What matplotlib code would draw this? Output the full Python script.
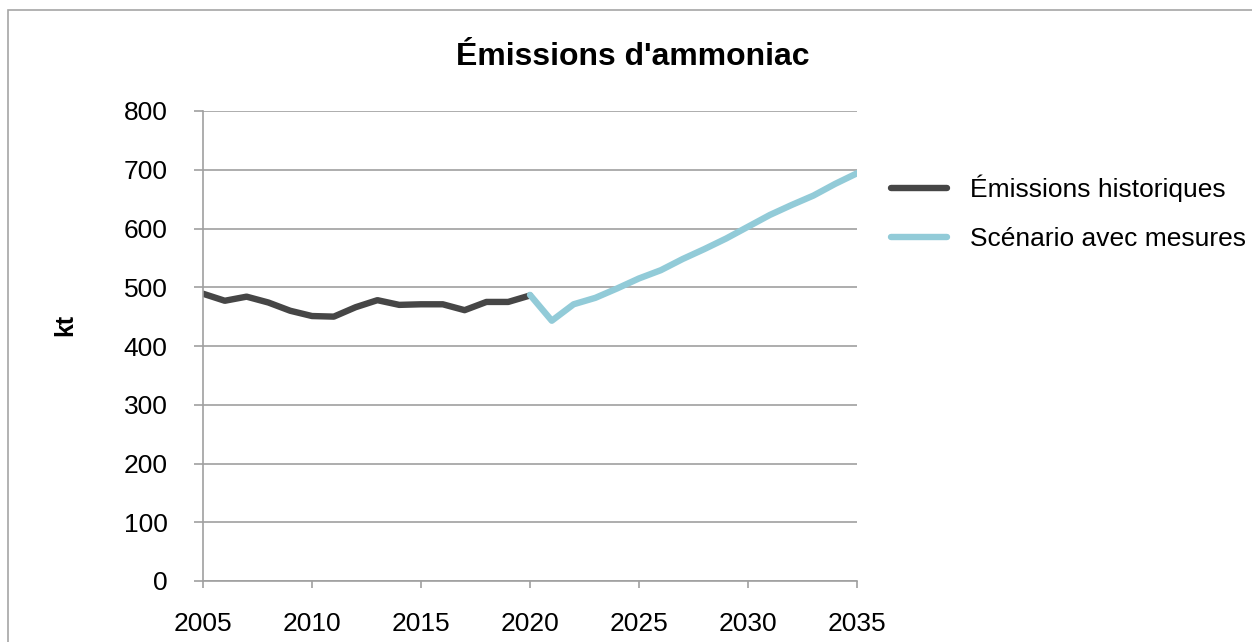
import matplotlib.pyplot as plt
from matplotlib.patches import Rectangle

plt.rcParams['font.family'] = ['Liberation Sans', 'DejaVu Sans']

# historical emissions
years_hist = list(range(2005, 2021))
hist = [489, 477, 484, 474, 460, 451, 450, 466, 478, 470, 471, 471, 461, 475, 475, 486]

# projection with measures
years_scen = list(range(2020, 2036))
scen = [487, 443, 471, 482, 498, 515, 529, 548, 565, 583, 603, 623, 640, 656, 676, 694]

title = "Émissions d'ammoniac"
labels = ["Émissions historiques", "Scénario avec mesures"]


def main():
    fig = plt.figure(figsize=(12.52, 6.42), dpi=100)
    # outer chart border
    fig.patches.append(Rectangle((8 / 1252, -0.1), 1.2, 1.1 - 10 / 642,
                                 transform=fig.transFigure, fill=False,
                                 edgecolor="#a6a6a6", linewidth=1.2))
    ax = fig.add_axes([203 / 1252, 1 - 581 / 642, 654 / 1252, 470 / 642])

    ax.plot(years_hist, hist, color="#464646", linewidth=4.6,
            solid_capstyle="round", label=labels[0])
    ax.plot(years_scen, scen, color="#92cbd8", linewidth=4.6,
            solid_capstyle="round", label=labels[1])

    ax.set_xlim(2005, 2035)
    ax.set_ylim(0, 800)
    ax.set_xticks(range(2005, 2036, 5))
    ax.set_yticks(range(0, 801, 100))
    ax.yaxis.grid(True, color="#a0a0a0", linewidth=1.2)
    ax.set_axisbelow(True)

    for s in ["top", "right"]:
        ax.spines[s].set_visible(False)
    for s in ["left", "bottom"]:
        ax.spines[s].set_color("#a0a0a0")
        ax.spines[s].set_linewidth(1.2)
    ax.tick_params(axis="both", colors="#a0a0a0", labelcolor="black",
                   labelsize=19, width=1.2)
    ax.tick_params(axis="x", length=5, pad=17)
    ax.tick_params(axis="y", length=6.5, pad=19)

    fig.text(65 / 1252, 1 - 325 / 642, "kt", rotation=90, ha="center",
             va="center", fontsize=18, fontweight="bold")
    fig.text(633 / 1252, 1 - 57 / 642, title, ha="center", va="center",
             fontsize=23, fontweight="bold")

    ax.legend(loc="center left", bbox_to_anchor=((880 - 203) / 654, (581 - 213) / 470),
              frameon=False, fontsize=19, handlelength=2.15, handletextpad=0.85,
              labelspacing=0.95, borderaxespad=0)

    fig.savefig("out.png", dpi=100)


if __name__ == "__main__":
    main()
